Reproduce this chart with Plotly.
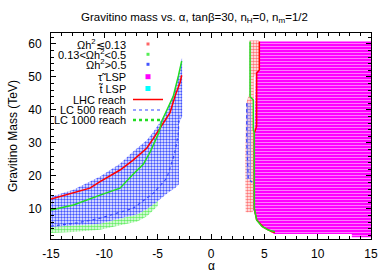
import plotly.graph_objects as go

# ---------------- data ----------------
# Omega h^2 > 0.5 region (left), polygon boundary
blue_reg_x = [-15, -15, -12.9, -10.4, -8.5, -7.3, -6.0, -5.4, -4.6, -4.1, -3.5, -3.0, -2.75, -2.7, -2.7, -3.0, -3.0, -3.3, -4.0, -5.2, -6.0, -6.9, -8.8, -10.4, -13, -15]
blue_reg_y = [4.5, 13.7, 15.8, 19.8, 23.8, 27.4, 30.9, 33.4, 37.2, 40.2, 45.0, 51.0, 55.5, 55.5, 38.0, 36.0, 17.5, 16.5, 15.0, 11.8, 10.0, 8.4, 6.9, 5.5, 5.0, 4.5]
# 0.13 < Omega h^2 < 0.5 band (left)
green_reg_x = [-5.0, -6.0, -6.9, -8.8, -10.4, -13, -15, -15, -13, -10.4, -8.8, -6.9, -6.0, -5.0]
green_reg_y = [12.4, 10.0, 8.4, 6.9, 5.5, 5.0, 4.5, 2.7, 3.0, 3.7, 4.9, 6.2, 7.8, 10.9]
# Omega h^2 <~ 0.13 strip (right)
red_reg_x = [3.6, 4.5, 4.5, 4.0, 4.0, 3.9, 3.25, 3.2, 3.3, 3.6, 3.6]
red_reg_y = [61.0, 61.0, 52.0, 50.0, 10.0, 9.0, 9.0, 25.0, 42.0, 45.0, 61.0]
# Omega h^2 > 0.5 strip (right)
blue_strip_x = [3.3, 3.3, 3.75, 3.75, 3.3]
blue_strip_y = [19.0, 42.0, 42.0, 19.0, 19.0]
# stau LSP region (right)
stau_x = [4.53, 15, 15, 13.2, 13.2, 5.9, 5.7, 4.9, 4.28, 3.97, 3.97, 4.1, 4.2, 4.53, 4.53]
stau_y = [60.7, 60.7, 1.4, 1.4, 2.4, 2.4, 3.1, 4.5, 6.7, 9.7, 30.0, 35.0, 51.5, 52.1, 60.7]

# reach curves, left branch
lhc_l_x = [-15, -12.9, -11.35, -10.4, -8.53, -7.3, -6.03, -5.4, -4.3, -3.84, -3.37, -2.9, -2.75]
lhc_l_y = [13.0, 14.8, 16.3, 18.3, 21.8, 24.8, 28.4, 31.4, 37.0, 39.2, 44.2, 48.3, 50.5]
lc500_l_x = [-15, -12.5, -10.4, -7.3, -5.4, -4.15, -3.4, -3.06, -3.0]
lc500_l_y = [4.8, 5.8, 7.2, 10.2, 14.8, 19.3, 26.9, 32.9, 38.0]
lc1000_l_x = [-15, -12.9, -10.4, -8.53, -7.3, -6.35, -5.7, -4.9, -4.6, -4.15, -3.53, -3.06, -2.75]
lc1000_l_y = [9.7, 11.2, 14.2, 16.3, 20.5, 23.5, 27.3, 33.0, 36.7, 39.7, 44.2, 50.3, 54.8]
# reach curves, right branch
lhc_r_x = [4.53, 4.53, 4.28, 4.28, 4.06, 4.06, 4.28, 4.9, 5.7, 6.0]
lhc_r_y = [60.7, 52.1, 51.1, 35.0, 33.0, 10.0, 6.7, 4.5, 3.1, 2.9]
lc500_r_x = [3.35, 3.35, 3.5, 3.9]
lc500_r_y = [42.0, 30.0, 19.0, 18.0]
lc1000_r_x = [3.66, 3.66, 3.97, 3.97, 4.06, 4.06, 4.28, 4.75, 5.37, 6.0]
lc1000_r_y = [60.7, 44.0, 43.0, 34.0, 33.0, 10.2, 6.7, 4.8, 3.6, 3.1]

x_ticks = [-15, -10, -5, 0, 5, 10, 15]
y_ticks = [10, 20, 30, 40, 50, 60]

legend_labels = ["Ωh<sup>2</sup>≲0.13", "0.13<Ωh<sup>2</sup><0.5", "Ωh<sup>2</sup>>0.5",
                 "τ̃ LSP", "t̃ LSP", "LHC reach", "LC 500 reach", "LC 1000 reach"]

# ---------------- styles ----------------
RED = "#ff0000"
GREEN = "#22dd22"
BLUE = "#3344ff"
MAG = "#ff00ff"
CYAN = "#00ffff"


def region(x, y, fg, bg, shape, size, sol):
    return go.Scatter(x=x, y=y, mode="lines", fill="toself", line=dict(width=0, color=fg),
                      fillcolor="rgba(0,0,0,0)",
                      fillpattern=dict(shape=shape, fgcolor=fg, bgcolor=bg, size=size,
                                       solidity=sol, fillmode="replace"),
                      hoverinfo="skip", showlegend=False)


fig = go.Figure()
fig.add_trace(region(red_reg_x, red_reg_y, "#ff7777", "white", ".", 3, 0.55))
fig.add_trace(region(green_reg_x, green_reg_y, "#66ee66", "white", ".", 3, 0.6))
fig.add_trace(region(blue_reg_x, blue_reg_y, "#4455ff", "white", ".", 3, 0.5))
fig.add_trace(region(blue_strip_x, blue_strip_y, "#7788ff", "rgba(0,0,0,0)", ".", 3, 0.5))
fig.add_trace(region(stau_x, stau_y, "#ffd0ff", MAG, "-", 3, 0.2))


def curve(x, y, color, width, dash):
    return go.Scatter(x=x, y=y, mode="lines", line=dict(color=color, width=width, dash=dash),
                      hoverinfo="skip", showlegend=False)


fig.add_trace(curve(lhc_l_x, lhc_l_y, RED, 1.5, "solid"))
fig.add_trace(curve(lhc_r_x, lhc_r_y, RED, 1.5, "solid"))
fig.add_trace(curve(lc500_l_x, lc500_l_y, BLUE, 1.2, "dot"))
fig.add_trace(curve(lc500_r_x, lc500_r_y, BLUE, 1.2, "dot"))
fig.add_trace(curve(lc1000_l_x, lc1000_l_y, GREEN, 1.5, "solid"))
fig.add_trace(curve(lc1000_r_x, lc1000_r_y, GREEN, 1.5, "solid"))

# ---------------- legend (gnuplot style: text right, key sample after) ----------------
L, R, T, B = 51, 371, 33, 239
W, H = R - L, B - T


def px2paper(px, py):
    return (px - L) / W, (B - py) / H


rows_py = [44, 54.3, 64.3, 76.7, 88.5, 99.5, 110, 120]
text_px = 128
annotations = []
shapes = []
for i, (lab, py) in enumerate(zip(legend_labels, rows_py)):
    xp, yp = px2paper(text_px, py)
    annotations.append(dict(x=xp, y=yp, xref="paper", yref="paper", text=lab, showarrow=False,
                            xanchor="right", yanchor="middle",
                            font=dict(family="Liberation Sans, Arial", size=11, color="black")))
marker_cols = ["#ff6666", "#55ee55", "#4455ff", MAG, CYAN]
marker_sz = [1.5, 1.5, 1.5, 2.5, 2.5]
for i, (c, s) in enumerate(zip(marker_cols, marker_sz)):
    cx, cy = px2paper(148, rows_py[i])
    shapes.append(dict(type="rect", xref="paper", yref="paper",
                       x0=cx - s / W, x1=cx + s / W, y0=cy - s / H, y1=cy + s / H,
                       fillcolor=c, line=dict(width=0)))
for c, py, wdt, dash in [(RED, rows_py[5], 1.5, "solid"), (BLUE, rows_py[6], 1.2, "dot"),
                         (GREEN, rows_py[7], 2.5, "dot")]:
    x0, y0 = px2paper(133, py)
    x1, _ = px2paper(163, py)
    shapes.append(dict(type="line", xref="paper", yref="paper", x0=x0, x1=x1, y0=y0, y1=y0,
                       line=dict(color=c, width=wdt, dash=dash)))

# x-axis title placed as an annotation (gnuplot puts it well below tick labels)
ax_x, ax_y = px2paper(211, 266)
annotations.append(dict(x=ax_x, y=ax_y, xref="paper", yref="paper", text="α", showarrow=False,
                        xanchor="center", yanchor="middle",
                        font=dict(family="Liberation Sans, Arial", size=12, color="black")))

fig.update_layout(
    width=389, height=273,
    margin=dict(l=L, r=389 - R, t=T, b=273 - B),
    paper_bgcolor="white", plot_bgcolor="white",
    font=dict(family="Liberation Sans, Arial", size=11, color="black"),
    title=dict(text="Gravitino mass vs. α, tanβ=30, n<sub>H</sub>=0, n<sub>m</sub>=1/2",
               x=0.5, xanchor="center", y=1 - 17 / 273, yanchor="middle",
               font=dict(size=11.5)),
    annotations=annotations,
    shapes=shapes,
    showlegend=False,
)
fig.update_xaxes(range=[-15, 15], tickvals=x_ticks, ticktext=[str(v) for v in x_ticks],
                 automargin=False,
                 showgrid=False, zeroline=False, showline=True, linecolor="black", linewidth=1,
                 mirror="allticks", ticks="inside", ticklen=5, tickcolor="black",
                 minor=dict(dtick=1, ticks="inside", ticklen=3, tickcolor="black"),
                 ticklabelstandoff=4, tickfont=dict(size=12))
fig.update_yaxes(range=[0.9, 63.3], tickvals=y_ticks, ticktext=[str(v) for v in y_ticks],
                 automargin=False,
                 showgrid=False, zeroline=False, showline=True, linecolor="black", linewidth=1,
                 mirror="allticks", ticks="inside", ticklen=5, tickcolor="black",
                 minor=dict(dtick=2, ticks="inside", ticklen=3, tickcolor="black"),
                 ticklabelstandoff=6,
                 title=dict(text="Gravitino Mass (TeV)", standoff=8, font=dict(size=12)),
                 tickfont=dict(size=12))

fig.write_html("out.html", config={"displayModeBar": False},
               post_script="document.body.style.margin='0px';")
